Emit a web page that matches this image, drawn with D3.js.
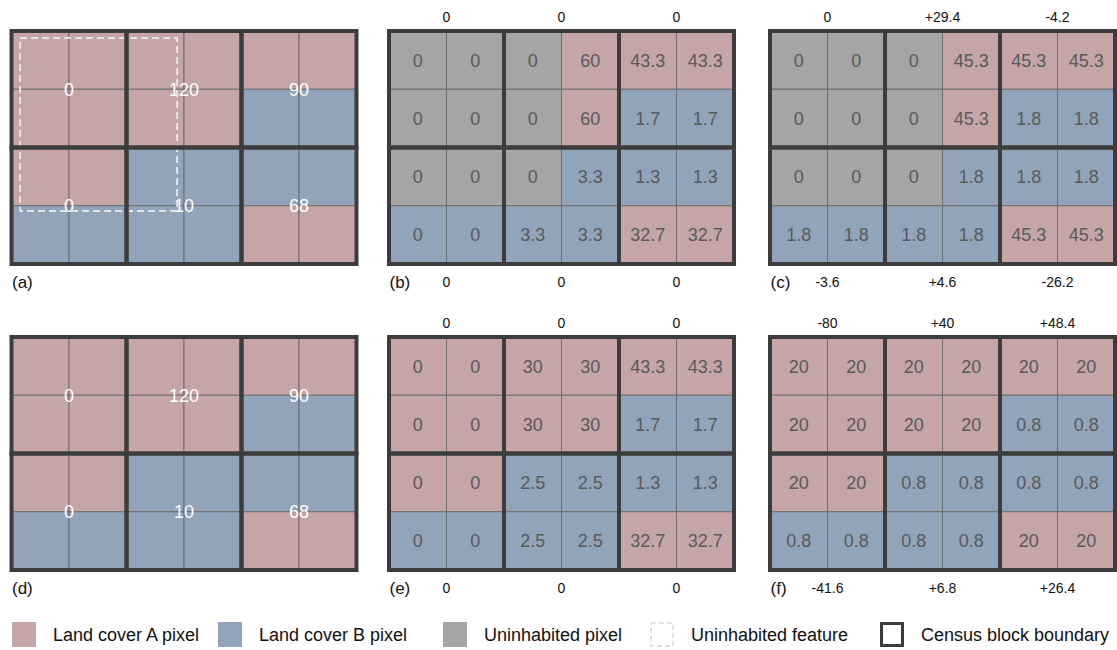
<!DOCTYPE html>
<html>
<head>
<meta charset="utf-8">
<script src="https://cdn.jsdelivr.net/npm/d3@7"></script>
<style>
  html, body { margin: 0; padding: 0; background: #fff; }
  svg { display: block; font-family: "Liberation Sans", Arial, sans-serif; }
</style>
</head>
<body>
<svg id="chart" width="1117" height="650"></svg>
<script>
// Pixel land cover: A, B, or U (uninhabited)
const landCover = [
  ["A", "A", "A", "A", "A", "A"],
  ["A", "A", "A", "A", "B", "B"],
  ["A", "A", "B", "B", "B", "B"],
  ["B", "B", "B", "B", "A", "A"]
];
const maskedCover = [
  ["U", "U", "U", "A", "A", "A"],
  ["U", "U", "U", "A", "B", "B"],
  ["U", "U", "U", "B", "B", "B"],
  ["B", "B", "B", "B", "A", "A"]
];
// Census block population counts (2 x 3 blocks)
const blockCounts = [[0, 120, 90], [0, 10, 68]];

// Pixel-level population estimates
const valuesB = [
  [0, 0, 0, 60, 43.3, 43.3],
  [0, 0, 0, 60, 1.7, 1.7],
  [0, 0, 0, 3.3, 1.3, 1.3],
  [0, 0, 3.3, 3.3, 32.7, 32.7]
];
const valuesC = [
  [0, 0, 0, 45.3, 45.3, 45.3],
  [0, 0, 0, 45.3, 1.8, 1.8],
  [0, 0, 0, 1.8, 1.8, 1.8],
  [1.8, 1.8, 1.8, 1.8, 45.3, 45.3]
];
const valuesE = [
  [0, 0, 30, 30, 43.3, 43.3],
  [0, 0, 30, 30, 1.7, 1.7],
  [0, 0, 2.5, 2.5, 1.3, 1.3],
  [0, 0, 2.5, 2.5, 32.7, 32.7]
];
const valuesF = [
  [20, 20, 20, 20, 20, 20],
  [20, 20, 20, 20, 0.8, 0.8],
  [20, 20, 0.8, 0.8, 0.8, 0.8],
  [0.8, 0.8, 0.8, 0.8, 20, 20]
];

// Block-level differences, upper and lower block rows
const topB = ["0", "0", "0"];
const bottomB = ["0", "0", "0"];
const topC = ["0", "+29.4", "-4.2"];
const bottomC = ["-3.6", "+4.6", "-26.2"];
const topE = ["0", "0", "0"];
const bottomE = ["0", "0", "0"];
const topF = ["-80", "+40", "+48.4"];
const bottomF = ["-41.6", "+6.8", "+26.4"];

// Uninhabited feature outline, in pixel-grid units [x0, y0, x1, y1]
const uninhabitedFeature = [0.15, 0.12, 2.88, 3.09];

const legendItems = ["Land cover A pixel", "Land cover B pixel", "Uninhabited pixel", "Uninhabited feature", "Census block boundary"];

const fills = { A: "#c5a5a5", B: "#91a4ba", U: "#a5a5a5" };
const borderColor = "#3c3c3c";
const thinColor = "#6e6e6e";

const panels = [
  { tag: "(a)", cover: landCover, blocks: blockCounts, feature: true, x: 11.5, y: 31 },
  { tag: "(b)", cover: maskedCover, values: valuesB, top: topB, bottom: bottomB, x: 389, y: 31 },
  { tag: "(c)", cover: maskedCover, values: valuesC, top: topC, bottom: bottomC, x: 770, y: 31 },
  { tag: "(d)", cover: landCover, blocks: blockCounts, x: 11.5, y: 337 },
  { tag: "(e)", cover: landCover, values: valuesE, top: topE, bottom: bottomE, x: 389, y: 337 },
  { tag: "(f)", cover: landCover, values: valuesF, top: topF, bottom: bottomF, x: 770, y: 337 }
];

const svg = d3.select("#chart");
const W = 345, H = 233;

panels.forEach(p => {
  const x = d3.scaleLinear().domain([0, 6]).range([p.x, p.x + W]);
  const y = d3.scaleLinear().domain([0, 4]).range([p.y, p.y + H]);
  const g = svg.append("g");

  const cells = [];
  p.cover.forEach((row, r) => row.forEach((c, k) => cells.push({
    r, k, cover: c, value: p.values ? p.values[r][k] : null
  })));

  g.selectAll("rect.cell").data(cells).join("rect")
    .attr("class", "cell")
    .attr("x", d => x(d.k)).attr("y", d => y(d.r))
    .attr("width", x(1) - x(0)).attr("height", y(1) - y(0))
    .attr("fill", d => fills[d.cover])
    .attr("stroke", thinColor).attr("stroke-width", 1);

  if (p.values) {
    g.selectAll("text.val").data(cells).join("text")
      .attr("class", "val")
      .attr("x", d => x(d.k + 0.5)).attr("y", d => y(d.r + 0.5))
      .attr("dy", "0.36em").attr("text-anchor", "middle")
      .attr("font-size", 18).attr("fill", "#5a5a5a")
      .text(d => String(d.value));
  }

  if (p.blocks) {
    const bl = [];
    p.blocks.forEach((row, r) => row.forEach((v, k) => bl.push({ r, k, v })));
    g.selectAll("text.blk").data(bl).join("text")
      .attr("class", "blk")
      .attr("x", d => x(d.k * 2 + 1)).attr("y", d => y(d.r * 2 + 1))
      .attr("dy", "0.36em").attr("text-anchor", "middle")
      .attr("font-size", 18).attr("fill", "#ffffff")
      .text(d => d.v);
  }

  if (p.feature) {
    const f = uninhabitedFeature;
    g.append("rect")
      .attr("x", x(f[0])).attr("y", y(f[1]))
      .attr("width", x(f[2]) - x(f[0])).attr("height", y(f[3]) - y(f[1]))
      .attr("fill", "none").attr("stroke", "#e4e4e4")
      .attr("stroke-width", 2).attr("stroke-dasharray", "7,4");
  }

  // census block boundaries
  const blocks = [];
  for (let r = 0; r < 2; r++) for (let k = 0; k < 3; k++) blocks.push({ r, k });
  g.selectAll("rect.block").data(blocks).join("rect")
    .attr("class", "block")
    .attr("x", d => x(d.k * 2)).attr("y", d => y(d.r * 2))
    .attr("width", x(2) - x(0)).attr("height", y(2) - y(0))
    .attr("fill", "none").attr("stroke", borderColor).attr("stroke-width", 4);

  if (p.top) {
    g.selectAll("text.top").data(p.top).join("text")
      .attr("class", "top")
      .attr("x", (d, i) => x(i * 2 + 1)).attr("y", p.y - 9)
      .attr("text-anchor", "middle").attr("font-size", 14).attr("fill", "#111")
      .text(d => d);
  }
  if (p.bottom) {
    g.selectAll("text.bot").data(p.bottom).join("text")
      .attr("class", "bot")
      .attr("x", (d, i) => x(i * 2 + 1)).attr("y", p.y + H + 23)
      .attr("text-anchor", "middle").attr("font-size", 14).attr("fill", "#111")
      .text(d => d);
  }

  g.append("text")
    .attr("x", p.x + 0.5).attr("y", p.y + H + 24)
    .attr("font-size", 17).attr("fill", "#111")
    .text(p.tag);
});

// legend
const legendX = [12, 218, 443, 650, 880];
const lg = svg.append("g");
legendItems.forEach((label, i) => {
  const gx = legendX[i], gy = 622;
  const item = lg.append("g");
  if (i < 3) {
    item.append("rect").attr("x", gx).attr("y", gy).attr("width", 24).attr("height", 25)
      .attr("fill", fills[["A", "B", "U"][i]]);
  } else if (i === 3) {
    item.append("rect").attr("x", gx + 1).attr("y", gy + 1).attr("width", 22).attr("height", 23)
      .attr("fill", "none").attr("stroke", "#d8d8d8").attr("stroke-width", 1.5)
      .attr("stroke-dasharray", "5,3");
  } else {
    item.append("rect").attr("x", gx + 1.5).attr("y", gy + 1.5).attr("width", 21).attr("height", 22)
      .attr("fill", "#fff").attr("stroke", borderColor).attr("stroke-width", 3);
  }
  item.append("text").attr("x", gx + 41).attr("y", gy + 19)
    .attr("font-size", 18).attr("fill", "#111").text(label);
});
</script>
</body>
</html>
